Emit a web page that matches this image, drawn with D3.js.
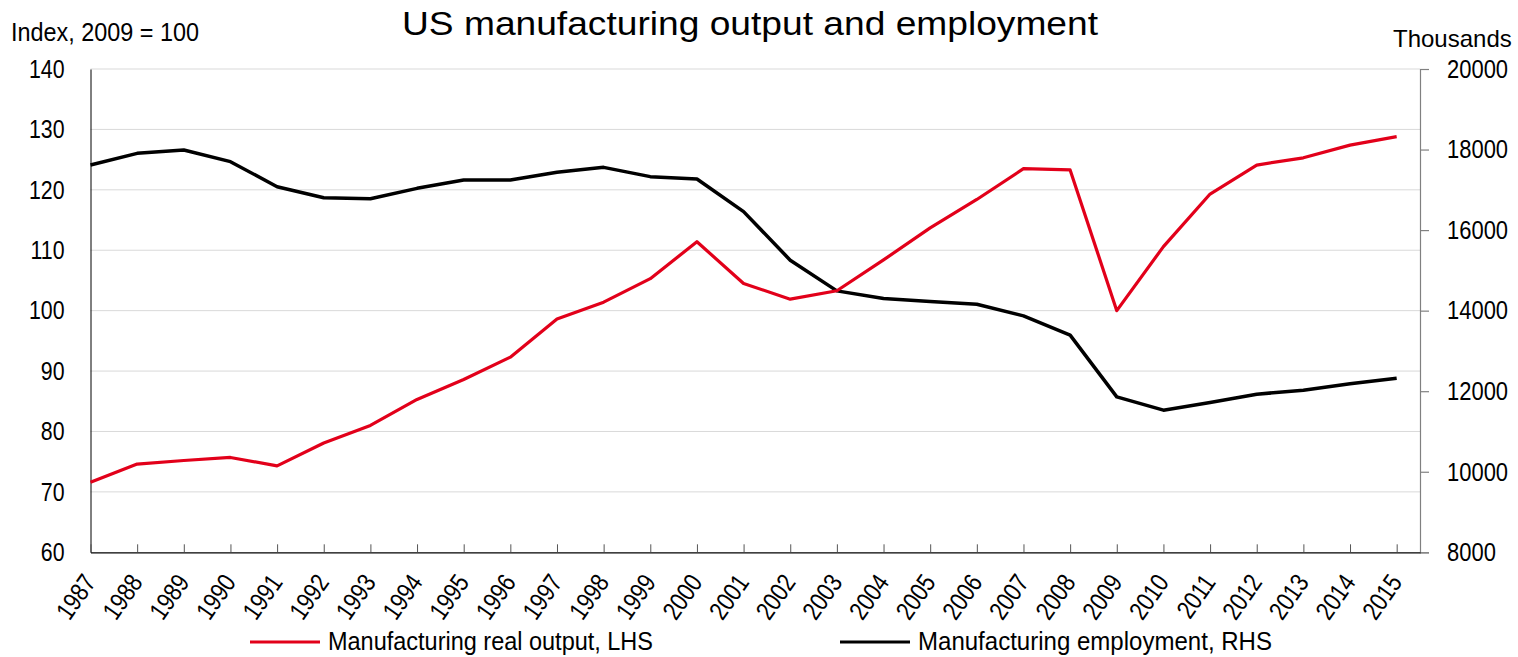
<!DOCTYPE html>
<html>
<head>
<meta charset="utf-8">
<script src="https://cdn.jsdelivr.net/npm/d3@7"></script>
<style>
  html, body { margin: 0; padding: 0; background: #fff; }
  svg { display: block; }
  text { font-family: "Liberation Sans", Arial, sans-serif; }
</style>
</head>
<body>
<svg id="chart" width="1518" height="657"></svg>
<script>
const years = [1987,1988,1989,1990,1991,1992,1993,1994,1995,1996,1997,1998,1999,2000,2001,2002,2003,2004,2005,2006,2007,2008,2009,2010,2011,2012,2013,2014,2015];
const outputIndex = [71.6,74.6,75.2,75.7,74.3,78.1,81.0,85.3,88.6,92.3,98.6,101.4,105.3,111.4,104.5,101.9,103.3,108.4,113.7,118.4,123.5,123.3,100.0,110.6,119.3,124.1,125.3,127.4,128.8];
const employment = [17616,17906,17989,17699,17078,16805,16780,17037,17244,17244,17434,17558,17327,17269,16458,15253,14491,14301,14227,14160,13871,13391,11860,11529,11719,11926,12025,12183,12323];
const leftTicks = [60,70,80,90,100,110,120,130,140];
const rightTicks = [8000,10000,12000,14000,16000,18000,20000];
const seriesNames = ["Manufacturing real output, LHS", "Manufacturing employment, RHS"];
const seriesColors = ["#e2001a", "#000000"];

const svg = d3.select("#chart");
const L = 90.5, R = 1420, T = 69, B = 552.3;

const x = d3.scaleLinear().domain([1987, 2015.5]).range([L, R]);
const yL = d3.scaleLinear().domain([60, 140]).range([B, T]);
const yR = d3.scaleLinear().domain([8000, 20000]).range([B, T]);

function squeeze(sel, k) {
  sel.each(function() {
    const w = this.getComputedTextLength();
    d3.select(this).attr("textLength", w * k).attr("lengthAdjust", "spacingAndGlyphs");
  });
}

// gridlines
svg.append("g").selectAll("line").data(leftTicks.filter(d => d > 60)).join("line")
  .attr("x1", L).attr("x2", R)
  .attr("y1", d => yL(d)).attr("y2", d => yL(d))
  .attr("stroke", "#d9d9d9").attr("stroke-width", 1);

// left axis
const gL = svg.append("g").attr("transform", `translate(${L},0)`)
  .call(d3.axisLeft(yL).tickValues(leftTicks).tickSize(0).tickPadding(26));
gL.select(".domain").attr("stroke", "#000").attr("stroke-width", 1);
gL.selectAll("text").attr("font-size", 26).attr("fill", "#000").call(squeeze, 0.82);

// right axis
const gR = svg.append("g").attr("transform", `translate(${R},0)`)
  .call(d3.axisRight(yR).tickValues(rightTicks).tickSize(9).tickPadding(18).tickFormat(d3.format("d")));
gR.select(".domain").attr("stroke", "#808080").attr("stroke-width", 1.2);
gR.selectAll(".tick line").attr("stroke", "#808080").attr("stroke-width", 1.2);
gR.selectAll("text").attr("font-size", 26).attr("fill", "#000").call(squeeze, 0.845);

// bottom axis
const gB = svg.append("g").attr("transform", `translate(0,${B})`)
  .call(d3.axisBottom(x).tickValues(years).tickSize(-8).tickFormat(d3.format("d")).tickSizeOuter(0));
gB.select(".domain").attr("stroke", "#000").attr("stroke-width", 1.2);
gB.selectAll(".tick line").attr("stroke", "#555").attr("stroke-width", 1);
gB.selectAll("text")
  .attr("font-size", 26).attr("fill", "#000")
  .attr("text-anchor", "end")
  .attr("dy", null).attr("y", 0)
  .attr("transform", "translate(6,30) rotate(-55)")
  .call(squeeze, 0.83);

// lines
const lineL = d3.line().x((d, i) => x(years[i])).y(d => yL(d));
const lineR = d3.line().x((d, i) => x(years[i])).y(d => yR(d));
svg.append("path").datum(employment).attr("d", lineR)
  .attr("fill", "none").attr("stroke", seriesColors[1]).attr("stroke-width", 3.5).attr("stroke-linejoin", "round");
svg.append("path").datum(outputIndex).attr("d", lineL)
  .attr("fill", "none").attr("stroke", seriesColors[0]).attr("stroke-width", 3.2).attr("stroke-linejoin", "round");

// titles
svg.append("text").attr("x", 402).attr("y", 35)
  .attr("font-size", 33).attr("fill", "#000")
  .attr("textLength", 696).attr("lengthAdjust", "spacingAndGlyphs")
  .text("US manufacturing output and employment");
svg.append("text").attr("x", 11).attr("y", 41)
  .attr("font-size", 26).attr("fill", "#000")
  .attr("textLength", 188).attr("lengthAdjust", "spacingAndGlyphs")
  .text("Index, 2009 = 100");
svg.append("text").attr("x", 1393).attr("y", 47)
  .attr("font-size", 24).attr("fill", "#000")
  .text("Thousands");

// legend
const legendX = [250, 840];
const legendLen = [325, 354];
const lg = svg.append("g").selectAll("g").data(seriesNames).join("g")
  .attr("transform", (d, i) => `translate(${legendX[i]},642)`);
lg.append("line").attr("x1", 0).attr("x2", 70).attr("y1", 0).attr("y2", 0)
  .attr("stroke", (d, i) => seriesColors[i]).attr("stroke-width", 3.2);
lg.append("text").attr("x", 78).attr("y", 8)
  .attr("font-size", 25).attr("fill", "#000")
  .attr("textLength", (d, i) => legendLen[i]).attr("lengthAdjust", "spacingAndGlyphs")
  .text(d => d);
</script>
</body>
</html>
